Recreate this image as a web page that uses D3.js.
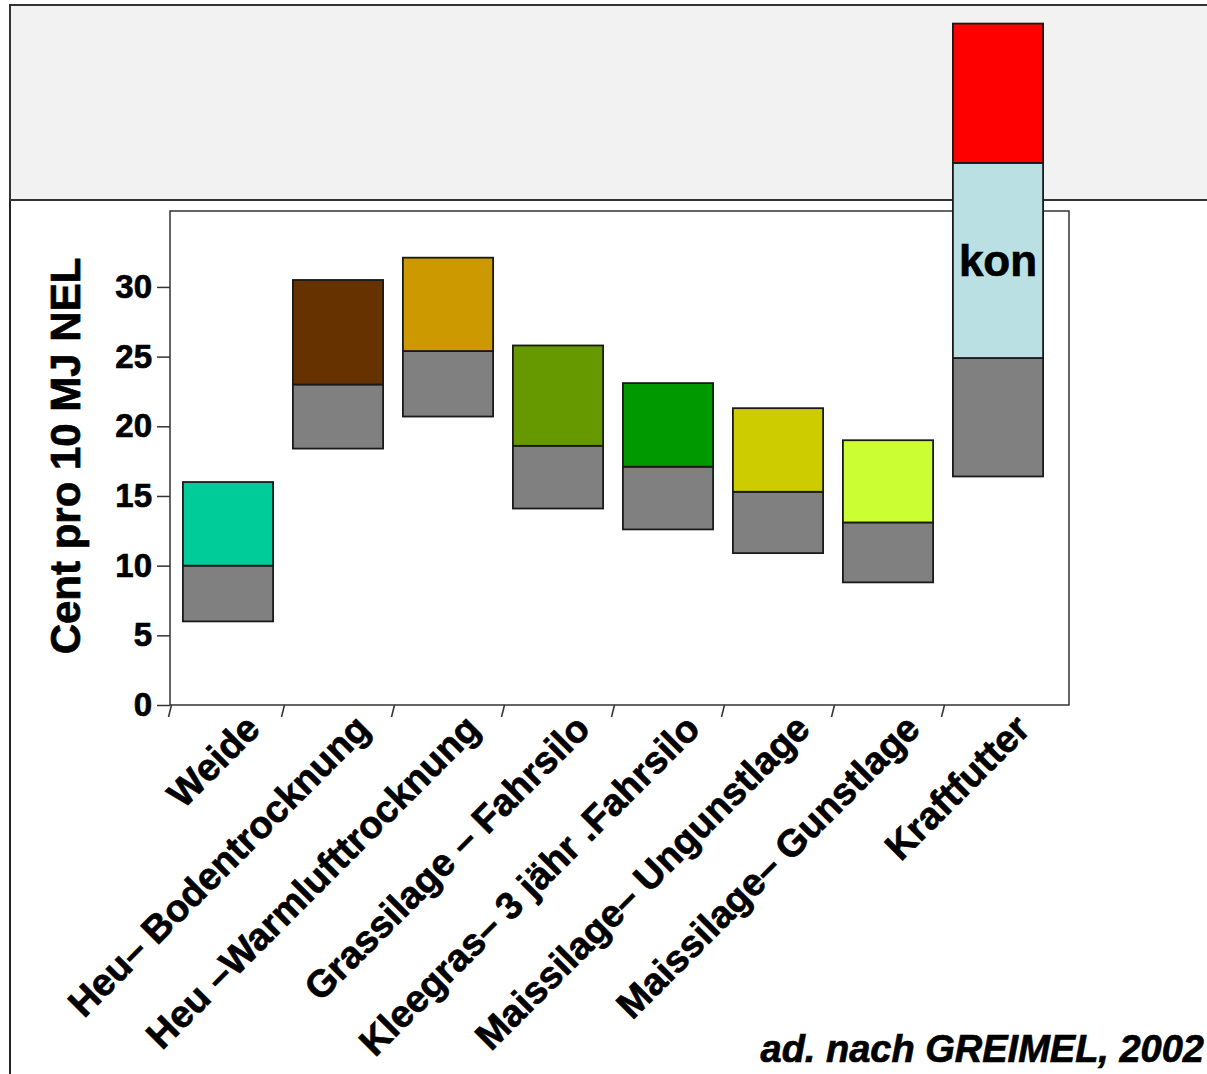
<!DOCTYPE html>
<html><head><meta charset="utf-8">
<script src="https://cdn.jsdelivr.net/npm/d3@7"></script>
<style>
html,body{margin:0;padding:0;background:#fff;}
svg{display:block;font-family:"Liberation Sans",Arial,sans-serif;}
.heavy{stroke:#000;stroke-width:0.7px;paint-order:stroke;}
</style></head>
<body>
<svg id="chart" width="1207" height="1074"></svg>
<script>
// ---- data ----
const categories = ["Weide","Heu– Bodentrocknung","Heu –Warmlufttrocknung","Grassilage – Fahrsilo","Kleegras– 3 jähr .Fahrsilo","Maissilage– Ungunstlage","Maissilage– Gunstlage","Kraftfutter"];
const lowValues  = [6.0, 18.4, 20.7, 14.1, 12.6, 10.9, 8.8, 16.4];   // bottom of grey part
const midValues  = [10.0, 23.0, 25.4, 18.6, 17.1, 15.3, 13.1, 24.9]; // top of grey / bottom of coloured part
const highValues = [16.0, 30.5, 32.1, 25.8, 23.1, 21.3, 19.0, 38.9]; // top of coloured part
const topValues  = [null, null, null, null, null, null, null, 48.9]; // red extension (Kraftfutter)
const barColors  = ["#00cc99","#663300","#cc9900","#669900","#009900","#cccc00","#ccff33","#bbe0e3"];
const yTicks = [0,5,10,15,20,25,30];
const yTitle = "Cent pro 10 MJ NEL";
const barLabel = "kon";
const source = "ad. nach GREIMEL, 2002";

const svg = d3.select("#chart");
const W = 1207, H = 1074;

// background frame
svg.append("rect").attr("x",0).attr("y",0).attr("width",W).attr("height",H).attr("fill","#fff");
svg.append("line").attr("x1",10).attr("x2",10).attr("y1",5).attr("y2",H).attr("stroke","#222").attr("stroke-width",2);
svg.append("rect").attr("x",10).attr("y",5).attr("width",W).attr("height",195)
   .attr("fill","#f2f2f2").attr("stroke","#333").attr("stroke-width",2);

const plot = {left:170, right:1069, top:211, bottom:705};

const x = d3.scaleBand().domain(categories).range([173,1053]).paddingInner(0.18).paddingOuter(0.09);
const y = d3.scaleLinear().domain([0,35.45]).range([plot.bottom, plot.top]);

// plot frame
svg.append("rect").attr("x",plot.left).attr("y",plot.top).attr("width",plot.right-plot.left).attr("height",plot.bottom-plot.top)
   .attr("fill","#fff").attr("stroke","#333").attr("stroke-width",1.5);

// y axis
const yAxis = d3.axisLeft(y).tickValues(yTicks).tickSize(13).tickPadding(5).tickFormat(d3.format("d"));
const yg = svg.append("g").attr("transform",`translate(${plot.left},0)`).call(yAxis);
yg.select(".domain").remove();
yg.selectAll(".tick line").attr("stroke","#333").attr("stroke-width",1.5);
yg.selectAll(".tick text").attr("font-size",33).attr("font-weight","bold").attr("fill","#000")
  .attr("font-family","Liberation Sans, Arial, sans-serif").attr("class","heavy");

// x ticks at band boundaries
const step = x.step();
const bounds = categories.map(c => x(c) - (step - x.bandwidth())/2);
bounds[0] = plot.left;
svg.append("g").selectAll("line").data(bounds).join("line")
  .attr("x1",d=>d+1.5).attr("x2",d=>d-1.5).attr("y1",plot.bottom).attr("y2",plot.bottom+12)
  .attr("stroke","#333").attr("stroke-width",1.5);

// bars
const bars = svg.append("g");
categories.forEach((c,i)=>{
  const bx = x(c), bw = x.bandwidth();
  bars.append("rect").attr("x",bx).attr("width",bw)
    .attr("y",y(midValues[i])).attr("height",y(lowValues[i])-y(midValues[i]))
    .attr("fill","#808080").attr("stroke","#1a1a1a").attr("stroke-width",1.8);
  bars.append("rect").attr("x",bx).attr("width",bw)
    .attr("y",y(highValues[i])).attr("height",y(midValues[i])-y(highValues[i]))
    .attr("fill",barColors[i]).attr("stroke","#1a1a1a").attr("stroke-width",1.8);
  if (topValues[i] != null) {
    bars.append("rect").attr("x",bx).attr("width",bw)
      .attr("y",y(topValues[i])).attr("height",y(highValues[i])-y(topValues[i]))
      .attr("fill","#ff0000").attr("stroke","#1a1a1a").attr("stroke-width",1.8);
    bars.append("text").attr("x",bx+bw/2).attr("y",y((midValues[i]+highValues[i])/2))
      .attr("dy","0.35em").attr("text-anchor","middle").attr("font-size",44).attr("font-weight","bold")
      .attr("class","heavy").text(barLabel);
  }
});

// x labels
svg.append("g").selectAll("text").data(categories).join("text")
  .attr("transform",d=>`translate(${x(d)+x.bandwidth()/2+34},${731}) rotate(-45)`)
  .attr("text-anchor","end").attr("font-size",38).attr("font-weight","bold").attr("fill","#000")
  .attr("class","heavy").text(d=>d);

// y title
svg.append("text").attr("transform",`translate(80,456) rotate(-90)`).attr("text-anchor","middle")
  .attr("font-size",42).attr("font-weight","bold").attr("class","heavy").text(yTitle);

// source
svg.append("text").attr("x",1204).attr("y",1062).attr("text-anchor","end").attr("font-size",38).attr("font-weight","bold")
  .attr("font-style","italic").attr("class","heavy").text(source);
</script>
</body></html>
